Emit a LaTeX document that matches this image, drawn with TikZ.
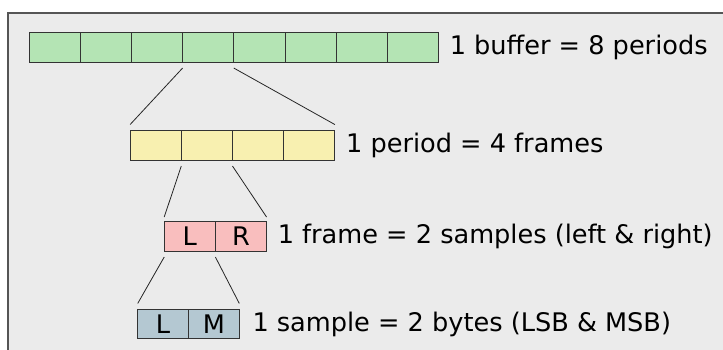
\documentclass[tikz,border=0pt]{standalone}
\usepackage{fontspec}
\setmainfont{DejaVu Sans}
\usetikzlibrary{positioning}
\definecolor{panelbg}{HTML}{EBEBEB}
\definecolor{panelline}{HTML}{555555}
\definecolor{bufgreen}{HTML}{B4E4B4}
\definecolor{peryellow}{HTML}{F8F0B0}
\definecolor{framepink}{HTML}{F9BEBE}
\definecolor{sampblue}{HTML}{B4C8D2}
\tikzstyle{cell} = [rectangle, draw=black!80, line width=1pt, outer sep=0pt, inner sep=0pt, minimum height=29.5pt, minimum width=51.2pt]
\tikzstyle{bufcell} = [cell, fill=bufgreen]
\tikzstyle{percell} = [cell, fill=peryellow]
\tikzstyle{framecell} = [cell, fill=framepink]
\tikzstyle{sampcell} = [cell, fill=sampblue, minimum width=50.8pt]
\tikzstyle{caption} = [anchor=west, inner sep=2pt]
\tikzstyle{split} = [line width=0.8pt, draw=black!85]

\begin{document}
\begin{tikzpicture}[x=1pt, y=-1pt, node distance=51.2pt, font=\fontsize{25.6}{30}\selectfont]

    \useasboundingbox (0,0) rectangle (723,349);
    \clip (0,0) rectangle (723,349);
    \fill[white] (0,0) rectangle (723,349);
    \draw[panelline, line width=1.5pt, fill=panelbg] (8,13) rectangle (740,370);

    % Buffer
    \node (b1) [bufcell] at (54.6,47.3) {};
    \node (b2) [bufcell, right of=b1] {};
    \node (b3) [bufcell, right of=b2] {};
    \node (b4) [bufcell, right of=b3] {};
    \node (b5) [bufcell, right of=b4] {};
    \node (b6) [bufcell, right of=b5] {};
    \node (b7) [bufcell, right of=b6] {};
    \node (b8) [bufcell, right of=b7] {};
    \node (bufcap) [caption, right=9pt of b8] {1 buffer = 8 periods};

    % Period
    \node (p1) [percell] at (155.7,145.3) {};
    \node (p2) [percell, right of=p1] {};
    \node (p3) [percell, right of=p2] {};
    \node (p4) [percell, right of=p3] {};
    \node (percap) [caption, right=9pt of p4] {1 period = 4 frames};

    % Frame
    \node (fl) [framecell] at (189.8,236.3) {L};
    \node (fr) [framecell, right of=fl] {R};
    \node (framecap) [caption, right=9pt of fr] {1 frame = 2 samples (left \& right)};

    % Sample
    \node (sl) [sampcell] at (163.1,324.2) {L};
    \node (sm) [sampcell, right of=sl, node distance=50.8pt] {M};
    \node (sampcap) [caption, right=11pt of sm] {1 sample = 2 bytes (LSB \& MSB)};

    % ==== Zoom lines
    \draw [split] ([yshift=-6pt]b4.south west) -- ([yshift=6pt]p1.north west);
    \draw [split] ([yshift=-6pt]b4.south east) -- ([yshift=6pt]p4.north east);

    \draw [split] ([yshift=-6pt]p2.south west) -- ([yshift=4.5pt]fl.north west);
    \draw [split] ([yshift=-6pt]p2.south east) -- ([yshift=4.5pt]fr.north east);

    \draw [split] ([yshift=-6pt]fl.south west) -- ([yshift=6pt]sl.north west);
    \draw [split] ([yshift=-6pt]fl.south east) -- ([yshift=6pt]sm.north east);

\end{tikzpicture}
\end{document}
